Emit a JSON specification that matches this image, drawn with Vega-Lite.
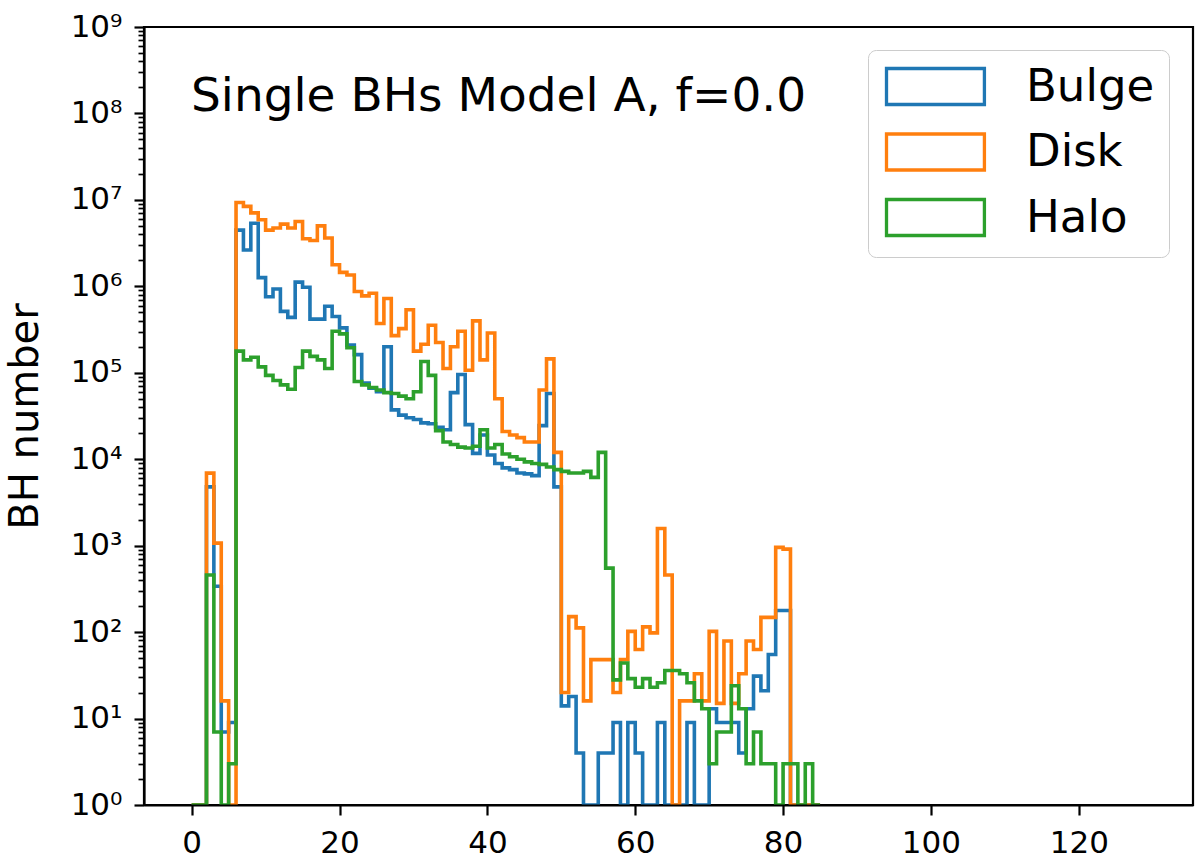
{
  "$schema": "https://vega.github.io/schema/vega-lite/v6.json",
  "width": 1049,
  "height": 778,
  "autosize": {"type": "none"},
  "padding": {"left": 144, "top": 27, "right": 7, "bottom": 59},
  "background": "white",
  "config": {
    "font": "DejaVu Sans",
    "view": {"stroke": "black", "strokeWidth": 2.2}
  },
  "title": {
    "text": "Single BHs Model A, f=0.0",
    "anchor": "start",
    "frame": "group",
    "orient": "top",
    "offset": 0,
    "baseline": "alphabetic",
    "dx": 47,
    "dy": 147,
    "fontSize": 47,
    "fontWeight": "normal",
    "font": "DejaVu Sans",
    "color": "black"
  },
  "data": {
    "values": [
      {"bin": 0, "Bulge": 0, "Disk": 0, "Halo": 0},
      {"bin": 1, "Bulge": 0, "Disk": 0, "Halo": 0},
      {"bin": 2, "Bulge": 4790, "Disk": 6900, "Halo": 457},
      {"bin": 3, "Bulge": 339, "Disk": 1070, "Halo": 7},
      {"bin": 4, "Bulge": 7, "Disk": 16, "Halo": 0},
      {"bin": 5, "Bulge": 9, "Disk": 0, "Halo": 3},
      {"bin": 6, "Bulge": 4470000, "Disk": 9330000, "Halo": 178000},
      {"bin": 7, "Bulge": 2630000, "Disk": 8410000, "Halo": 141000},
      {"bin": 8, "Bulge": 5370000, "Disk": 7080000, "Halo": 151000},
      {"bin": 9, "Bulge": 1260000, "Disk": 5890000, "Halo": 117000},
      {"bin": 10, "Bulge": 759000, "Disk": 4470000, "Halo": 93300},
      {"bin": 11, "Bulge": 933000, "Disk": 4730000, "Halo": 81300},
      {"bin": 12, "Bulge": 513000, "Disk": 5250000, "Halo": 72400},
      {"bin": 13, "Bulge": 437000, "Disk": 4730000, "Halo": 64600},
      {"bin": 14, "Bulge": 1120000, "Disk": 5620000, "Halo": 115000},
      {"bin": 15, "Bulge": 977000, "Disk": 3550000, "Halo": 178000},
      {"bin": 16, "Bulge": 417000, "Disk": 3390000, "Halo": 155000},
      {"bin": 17, "Bulge": 417000, "Disk": 5010000, "Halo": 141000},
      {"bin": 18, "Bulge": 589000, "Disk": 3630000, "Halo": 112000},
      {"bin": 19, "Bulge": 447000, "Disk": 1780000, "Halo": 302000},
      {"bin": 20, "Bulge": 331000, "Disk": 1450000, "Halo": 282000},
      {"bin": 21, "Bulge": 209000, "Disk": 1350000, "Halo": 195000},
      {"bin": 22, "Bulge": 162000, "Disk": 871000, "Halo": 79400},
      {"bin": 23, "Bulge": 75900, "Disk": 776000, "Halo": 72400},
      {"bin": 24, "Bulge": 66100, "Disk": 832000, "Halo": 67600},
      {"bin": 25, "Bulge": 60300, "Disk": 372000, "Halo": 63100},
      {"bin": 26, "Bulge": 200000, "Disk": 724000, "Halo": 58900},
      {"bin": 27, "Bulge": 37200, "Disk": 269000, "Halo": 57500},
      {"bin": 28, "Bulge": 32400, "Disk": 324000, "Halo": 53700},
      {"bin": 29, "Bulge": 30200, "Disk": 537000, "Halo": 50100},
      {"bin": 30, "Bulge": 28800, "Disk": 178000, "Halo": 60300},
      {"bin": 31, "Bulge": 26300, "Disk": 214000, "Halo": 135000},
      {"bin": 32, "Bulge": 25700, "Disk": 355000, "Halo": 93300},
      {"bin": 33, "Bulge": 23400, "Disk": 224000, "Halo": 21400},
      {"bin": 34, "Bulge": 21900, "Disk": 112000, "Halo": 15800},
      {"bin": 35, "Bulge": 58900, "Disk": 200000, "Halo": 14800},
      {"bin": 36, "Bulge": 95500, "Disk": 302000, "Halo": 13800},
      {"bin": 37, "Bulge": 25100, "Disk": 107000, "Halo": 13500},
      {"bin": 38, "Bulge": 11700, "Disk": 398000, "Halo": 14100},
      {"bin": 39, "Bulge": 19100, "Disk": 141000, "Halo": 21900},
      {"bin": 40, "Bulge": 11200, "Disk": 288000, "Halo": 13500},
      {"bin": 41, "Bulge": 8910, "Disk": 50100, "Halo": 14800},
      {"bin": 42, "Bulge": 7940, "Disk": 20900, "Halo": 11500},
      {"bin": 43, "Bulge": 7590, "Disk": 19100, "Halo": 10700},
      {"bin": 44, "Bulge": 6920, "Disk": 17800, "Halo": 10000},
      {"bin": 45, "Bulge": 6760, "Disk": 15800, "Halo": 9330},
      {"bin": 46, "Bulge": 6460, "Disk": 15800, "Halo": 8910},
      {"bin": 47, "Bulge": 24500, "Disk": 63100, "Halo": 8710},
      {"bin": 48, "Bulge": 57500, "Disk": 145000, "Halo": 8130},
      {"bin": 49, "Bulge": 4790, "Disk": 12000, "Halo": 7590},
      {"bin": 50, "Bulge": 14, "Disk": 20, "Halo": 7240},
      {"bin": 51, "Bulge": 18, "Disk": 151, "Halo": 6920},
      {"bin": 52, "Bulge": 4, "Disk": 112, "Halo": 6920},
      {"bin": 53, "Bulge": 0, "Disk": 16, "Halo": 7240},
      {"bin": 54, "Bulge": 0, "Disk": 48, "Halo": 6170},
      {"bin": 55, "Bulge": 4, "Disk": 48, "Halo": 12000},
      {"bin": 56, "Bulge": 4, "Disk": 48, "Halo": 550},
      {"bin": 57, "Bulge": 9, "Disk": 20, "Halo": 28},
      {"bin": 58, "Bulge": 0, "Disk": 48, "Halo": 44},
      {"bin": 59, "Bulge": 9, "Disk": 102, "Halo": 29},
      {"bin": 60, "Bulge": 4, "Disk": 63, "Halo": 23},
      {"bin": 61, "Bulge": 0, "Disk": 115, "Halo": 29},
      {"bin": 62, "Bulge": 0, "Disk": 98, "Halo": 23},
      {"bin": 63, "Bulge": 9, "Disk": 1580, "Halo": 26},
      {"bin": 64, "Bulge": 0, "Disk": 457, "Halo": 36},
      {"bin": 65, "Bulge": 0, "Disk": 0, "Halo": 36},
      {"bin": 66, "Bulge": 0, "Disk": 16, "Halo": 33},
      {"bin": 67, "Bulge": 9, "Disk": 16, "Halo": 26},
      {"bin": 68, "Bulge": 0, "Disk": 33, "Halo": 16},
      {"bin": 69, "Bulge": 0, "Disk": 16, "Halo": 13},
      {"bin": 70, "Bulge": 13, "Disk": 102, "Halo": 3},
      {"bin": 71, "Bulge": 9, "Disk": 15, "Halo": 7},
      {"bin": 72, "Bulge": 9, "Disk": 79, "Halo": 7},
      {"bin": 73, "Bulge": 9, "Disk": 15, "Halo": 24},
      {"bin": 74, "Bulge": 4, "Disk": 33, "Halo": 13},
      {"bin": 75, "Bulge": 13, "Disk": 79, "Halo": 3},
      {"bin": 76, "Bulge": 31, "Disk": 63, "Halo": 7},
      {"bin": 77, "Bulge": 21, "Disk": 148, "Halo": 3},
      {"bin": 78, "Bulge": 55, "Disk": 148, "Halo": 3},
      {"bin": 79, "Bulge": 178, "Disk": 955, "Halo": 0},
      {"bin": 80, "Bulge": 178, "Disk": 912, "Halo": 3},
      {"bin": 81, "Bulge": 0, "Disk": 0, "Halo": 3},
      {"bin": 82, "Bulge": 0, "Disk": 0, "Halo": 0},
      {"bin": 83, "Bulge": 0, "Disk": 0, "Halo": 3},
      {"bin": 84, "Bulge": 0, "Disk": 0, "Halo": 0},
      {"bin": 85, "Bulge": 0, "Disk": 0, "Halo": 0}
    ]
  },
  "transform": [
    {"fold": ["Bulge", "Disk", "Halo"], "as": ["component", "count"]}
  ],
  "mark": {
    "type": "line",
    "interpolate": "step-after",
    "strokeWidth": 3.6,
    "clip": true,
    "invalid": "show"
  },
  "encoding": {
    "x": {
      "field": "bin",
      "type": "quantitative",
      "scale": {"domain": [-6.45, 135.45], "nice": false, "zero": false},
      "axis": {
        "values": [0, 20, 40, 60, 80, 100, 120],
        "title": null,
        "grid": false,
        "tickSize": 10,
        "tickWidth": 2.2,
        "tickColor": "black",
        "domainColor": "black",
        "domainWidth": 2.2,
        "labelFontSize": 31,
        "labelColor": "black",
        "labelPadding": 13,
        "labelFlush": false,
        "zindex": 1
      }
    },
    "y": {
      "field": "count",
      "type": "quantitative",
      "scale": {"type": "log", "domain": [1, 1e9], "clamp": true, "nice": false},
      "axis": {
        "values": [1, 2, 3, 4, 5, 6, 7, 8, 9,
                   10, 20, 30, 40, 50, 60, 70, 80, 90,
                   100, 200, 300, 400, 500, 600, 700, 800, 900,
                   1000, 2000, 3000, 4000, 5000, 6000, 7000, 8000, 9000,
                   1e4, 2e4, 3e4, 4e4, 5e4, 6e4, 7e4, 8e4, 9e4,
                   1e5, 2e5, 3e5, 4e5, 5e5, 6e5, 7e5, 8e5, 9e5,
                   1e6, 2e6, 3e6, 4e6, 5e6, 6e6, 7e6, 8e6, 9e6,
                   1e7, 2e7, 3e7, 4e7, 5e7, 6e7, 7e7, 8e7, 9e7,
                   1e8, 2e8, 3e8, 4e8, 5e8, 6e8, 7e8, 8e8, 9e8, 1e9],
        "labelExpr": "abs(log(datum.value)/LN10 - round(log(datum.value)/LN10)) < 0.001 ? '10' + ['⁰','¹','²','³','⁴','⁵','⁶','⁷','⁸','⁹'][round(log(datum.value)/LN10)] : ''",
        "title": "BH number",
        "titleFontSize": 40,
        "titleFontWeight": "normal",
        "titleColor": "black",
        "titleX": -119,
        "titleY": 389,
        "titleAngle": -90,
        "titleAlign": "center",
        "titleBaseline": "middle",
        "grid": false,
        "tickSize": {"condition": {"test": "abs(log(datum.value)/LN10 - round(log(datum.value)/LN10)) < 0.001", "value": 10}, "value": 6},
        "tickWidth": {"condition": {"test": "abs(log(datum.value)/LN10 - round(log(datum.value)/LN10)) < 0.001", "value": 2.2}, "value": 1.7},
        "tickColor": "black",
        "domainColor": "black",
        "domainWidth": 2.2,
        "labelFontSize": 31,
        "labelColor": "black",
        "labelPadding": 12,
        "labelOverlap": false,
        "labelFlush": false,
        "labelBound": false,
        "zindex": 1
      }
    },
    "color": {
      "field": "component",
      "type": "nominal",
      "scale": {"domain": ["Bulge", "Disk", "Halo"], "range": ["#1f77b4", "#ff7f0e", "#2ca02c"]},
      "legend": {
        "title": null,
        "orient": "none",
        "legendX": 724,
        "legendY": 23,
        "padding": 14,
        "fillColor": "rgba(255,255,255,0.8)",
        "strokeColor": "#cccccc",
        "cornerRadius": 8,
        "symbolType": "M-1,-1H4.44V1H-1Z",
        "symbolSize": 1296,
        "symbolStrokeWidth": 3.3,
        "symbolFillColor": "transparent",
        "labelFontSize": 45,
        "labelColor": "black",
        "labelOffset": 99,
        "rowPadding": 14.5
      }
    }
  }
}
